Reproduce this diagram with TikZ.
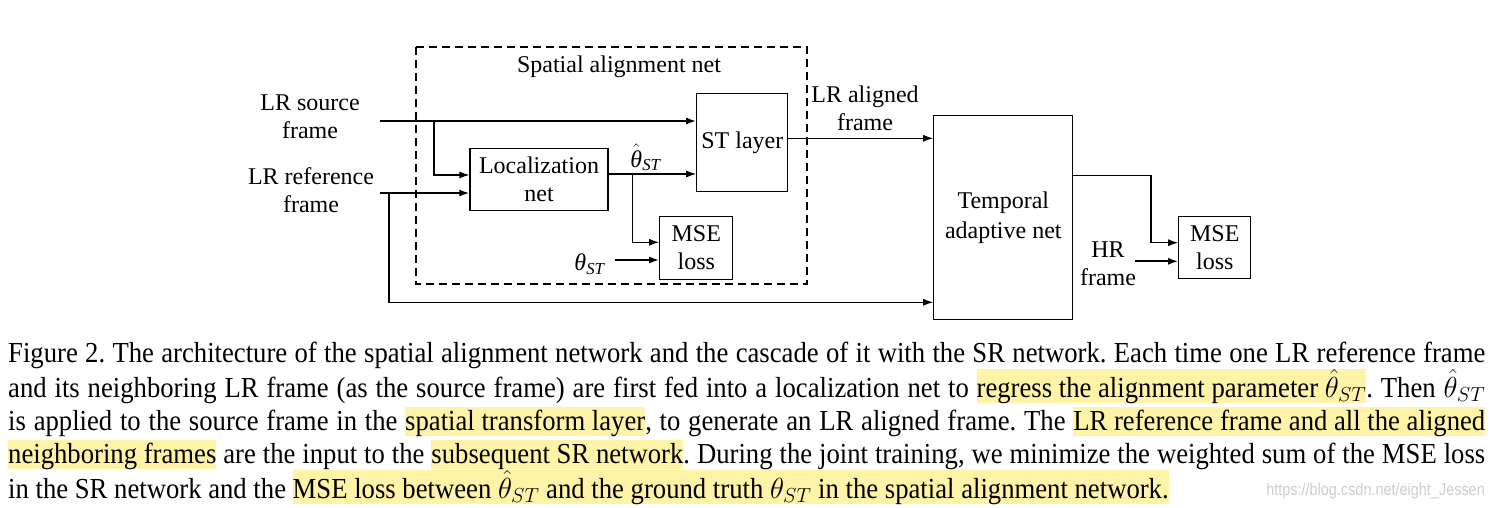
\IfFileExists{fix-cm.sty}{\RequirePackage{fix-cm}}{}
\documentclass[tikz,border=0pt]{standalone}
\usepackage{fontspec}
\setmainfont{Liberation Serif}
\newfontfamily\capfont[FakeStretch=0.92]{Liberation Serif}
\newfontfamily\markfont[FakeStretch=0.85]{Liberation Sans}
\usetikzlibrary{arrows.meta,positioning}
\definecolor{hlyellow}{RGB}{255,243,168}
\definecolor{markgray}{RGB}{205,205,205}
\newcommand{\labelsize}{\fontsize{24}{28}\selectfont}
\newcommand{\thetaST}{\textit{θ}\textsubscript{\textit{ST}}}
\newcommand{\thetahatST}{$\hat{\hbox{\textit{θ}}}$\textsubscript{\textit{ST}}}
\newcommand{\hlt}[1]{{\setlength{\fboxsep}{0pt}\colorbox{hlyellow}{\rule[-6pt]{0pt}{29pt}#1}}}
\tikzstyle{block} = [rectangle, draw, line width=1.2pt, align=center,
    inner sep=0pt, font=\labelsize]
\tikzstyle{frametext} = [align=center, inner sep=0pt, font=\labelsize]
\tikzstyle{line} = [draw, line width=1.8pt, -{Latex[length=10pt,width=7pt]}]
\tikzstyle{thinline} = [draw, line width=1.2pt, -{Latex[length=10pt,width=7pt]}]
\tikzstyle{netframe} = [draw, line width=1.8pt, dash pattern=on 8pt off 5pt]

\begin{document}
\begin{tikzpicture}[x=1pt, y=-1pt, node distance=200pt]
  \useasboundingbox (0,0) rectangle (1503,508);
  % blocks
  \node [block, minimum width=138pt, minimum height=62pt] (loc) at (539,179.7) {Localization\\net};
  \node [block, minimum width=91pt, minimum height=98pt, right of=loc, node distance=203.3pt, yshift=37.2pt] (st) {ST layer};
  \node [block, minimum width=73pt, minimum height=63pt] (msest) at (696.3,247.7) {MSE\\loss};
  \node [block, minimum width=139pt, minimum height=204pt, right of=loc, node distance=464.3pt, yshift=-37.8pt,
    font=\fontsize{24}{30}\selectfont] (tan) {Temporal\\adaptive net};
  \node [block, minimum width=72pt, minimum height=62pt, right of=tan, node distance=211.5pt, yshift=-30.3pt] (msesr) {MSE\\loss};
  % dashed frame of the alignment net
  \draw [netframe] (416,47) rectangle (806.7,284.3);
  \node [frametext] (sanet) at (619,67) {Spatial alignment net};
  % texts
  \node [frametext] (src) at (310,117) {LR source\\frame};
  \node [frametext] (ref) at (311,190) {LR reference\\frame};
  \node [frametext] (aligned) at (865,108) {LR aligned\\frame};
  \node [frametext] (hr) at (1108,264) {HR\\frame};
  \node [frametext] (thhat) at (646,157.5) {\thetahatST};
  \node [frametext] (th) at (590,264) {\thetaST};
  % connector ends
  \coordinate (srcin) at (380,121);
  \coordinate (srcfork) at (434,121);
  \coordinate (refin) at (380,193);
  \coordinate (refork) at (389,193);
  \coordinate (locfork) at (632.7,174);
  \coordinate (thin) at (615,260);
  \coordinate (tanturn) at (1151,175.3);
  \coordinate (hrin) at (1135,261.3);
  \path [line] (srcin) -- (srcin -| st.west);
  \path [thinline] (srcfork) |- (loc.west |- 0,175);
  \path [line] (refin) -- (refin -| loc.west);
  \path [thinline] (refork) |- (tan.west |- 0,302.3);
  \path [thinline] (loc.east |- locfork) -- (locfork -| st.west);
  \path [thinline] (locfork) |- (msest.west |- 0,242.3);
  \path [line] (thin) -- (thin -| msest.west);
  \path [thinline] (st.east |- 0,138.3) -- (tan.west |- 0,138.3);
  \path [thinline] (tan.east |- tanturn) -- (tanturn) |- (msesr.west |- 0,242.7);
  \path [line] (hrin) -- (hrin -| msesr.west);
  % caption
  \node [anchor=base west, inner sep=0pt, text width=1477pt, align=justify,
    font=\capfont\fontsize{29}{33}\selectfont] (caption) at (8,362) {%
    \frenchspacing\tolerance=9999\pretolerance=-1\hyphenpenalty=10000
    Figure 2. The architecture of the spatial alignment network and the cascade of it with the SR network. Each time one LR reference frame\linebreak
    and its neighboring LR frame (as the source frame) are first fed into a localization net to \hlt{regress the alignment parameter $\hat{\theta}_{ST}$}. Then $\hat{\theta}_{ST}$\linebreak
    is applied to the source frame in the \hlt{spatial transform layer}, to generate an LR aligned frame. The \hlt{LR reference frame and all the aligned}\linebreak
    \hlt{neighboring frames} are the input to the \hlt{subsequent SR network}. During the joint training, we minimize the weighted sum of the MSE loss\linebreak
    in the SR network and the \hlt{MSE loss between $\hat{\theta}_{ST}$ and the ground truth $\theta_{ST}$ in the spatial alignment network.}};
  \node [anchor=base east, inner sep=0pt, text=markgray,
    font=\markfont\fontsize{17}{20}\selectfont] (watermark) at (1485,495) {https://blog.csdn.net/eight\_Jessen};
\end{tikzpicture}
\end{document}
